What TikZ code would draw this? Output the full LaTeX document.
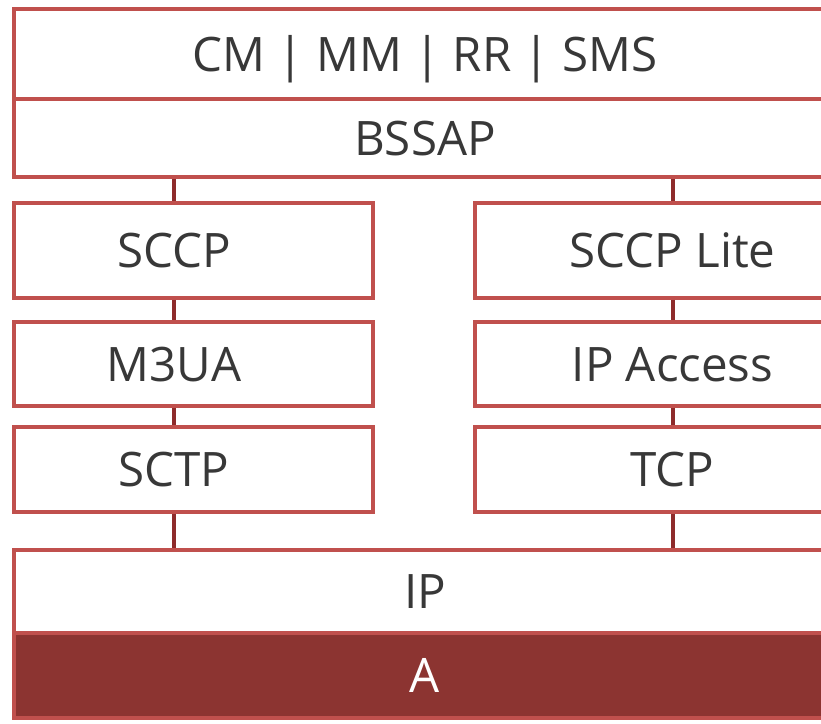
\documentclass[tikz,border=0pt]{standalone}
\usepackage{fontspec}
\setmainfont{Open Sans}
\usepackage{xcolor}

\definecolor{boxred}{HTML}{C0504D}
\definecolor{linkred}{HTML}{8E2B2B}
\definecolor{darkred}{HTML}{8C3431}
\definecolor{txtgray}{HTML}{383838}

\begin{document}
\begin{tikzpicture}[x=1pt,y=-1pt,
  layer/.style={draw=boxred,line width=3.8pt,fill=white,rectangle,inner sep=0pt,
    font=\fontsize{47.5}{50}\selectfont,text=txtgray,text height=34pt,text depth=0pt},
  txt/.style={inner sep=0pt,font=\fontsize{47.5}{50}\selectfont,text=txtgray,
    text height=34pt,text depth=0pt},
  link/.style={draw=linkred,line width=4pt}]
\useasboundingbox (0,0) rectangle (821,723);
% top of the stack
\node[layer,minimum width=822pt,minimum height=90pt] (cm) at (425,54) {CM | MM | RR | SMS};
\node[layer,minimum width=822pt,minimum height=78pt] (bssap) at (425,138) {BSSAP};
% left column
\node[layer,minimum width=359pt,minimum height=95pt] (sccp) at (193.5,250.5) {};
\node[txt] (sccpt) at (174,250.5) {SCCP};
\node[layer,minimum width=359pt,minimum height=84pt] (m3ua) at (193.5,364) {};
\node[txt] (m3uat) at (174,364) {M3UA};
\node[layer,minimum width=359pt,minimum height=85pt] (sctp) at (193.5,469.5) {};
\node[txt] (sctpt) at (174,469.5) {SCTP};
% right column
\node[layer,minimum width=395pt,minimum height=95pt] (lite) at (672.5,250.5) {SCCP Lite};
\node[layer,minimum width=395pt,minimum height=84pt] (ipa) at (672.5,364) {IP Access};
\node[layer,minimum width=395pt,minimum height=85pt] (tcp) at (672.5,469.5) {TCP};
% bottom
\node[layer,minimum width=822pt,minimum height=83pt] (ip) at (425,591.5) {IP};
\node[layer,fill=darkred,text=white,minimum width=822pt,minimum height=85pt] (a) at (425,675.5) {A};
% links
\draw[link] (bssap.south -| sccpt) -- (sccpt |- sccp.north);
\draw[link] (sccp.south -| sccpt) -- (sccpt |- m3ua.north);
\draw[link] (m3ua.south -| sccpt) -- (sccpt |- sctp.north);
\draw[link] (sctp.south -| sccpt) -- (sccpt |- ip.north);
\draw[link] (bssap.south -| lite) -- (lite.north);
\draw[link] (lite.south) -- (ipa.north);
\draw[link] (ipa.south) -- (tcp.north);
\draw[link] (tcp.south) -- (tcp |- ip.north);
\end{tikzpicture}
\end{document}
